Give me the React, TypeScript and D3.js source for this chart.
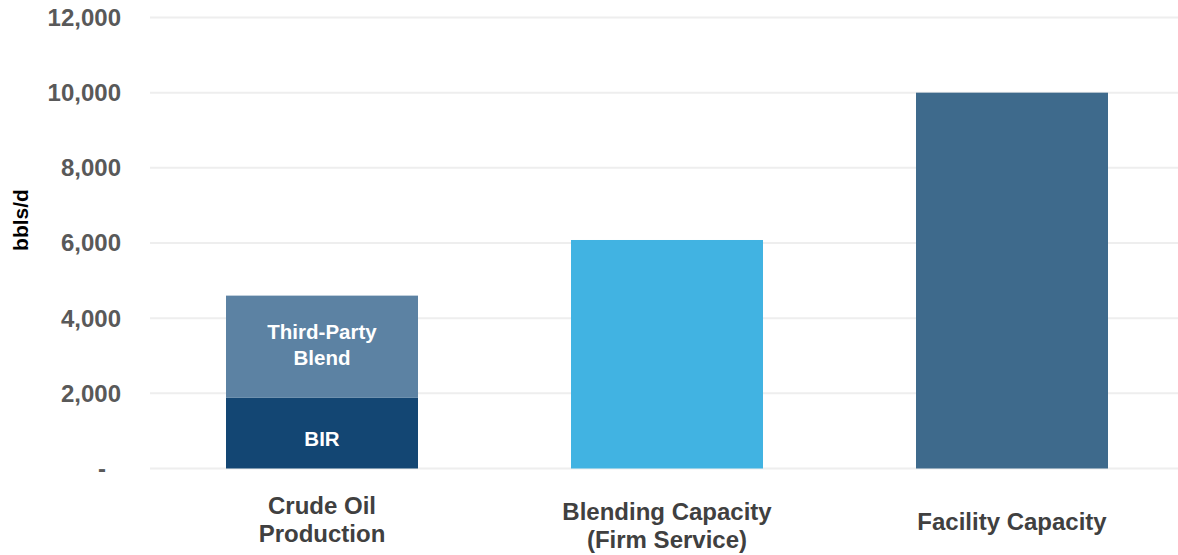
import React from "react";
import * as d3 from "d3";

const categories = ["Crude Oil Production", "Blending Capacity (Firm Service)", "Facility Capacity"];
const categoryLines = [["Crude Oil", "Production"], ["Blending Capacity", "(Firm Service)"], ["Facility Capacity"]];
const birValues = [1880, 0, 0];
const thirdPartyValues = [2720, 0, 0];
const blendingValues = [0, 6080, 0];
const facilityValues = [0, 0, 10000];
const yTicks = [0, 2000, 4000, 6000, 8000, 10000, 12000];
const segmentLabels = { bir: ["BIR"], third: ["Third-Party", "Blend"] };

const W = 1178, H = 555;

export default function App() {
  const x = d3.scaleBand<string>().domain(categories).range([149.5, 1184.5]).paddingInner(0.4435).paddingOuter(0.22175);
  const y = d3.scaleLinear().domain([0, 12000]).range([468.5, 17.5]);
  const bw = x.bandwidth();
  const fmt = d3.format(",");
  const font = "'Liberation Sans', Arial, sans-serif";

  const segs: { cat: string; y0: number; y1: number; color: string; label?: string[] }[] = [];
  categories.forEach((c, i) => {
    let base = 0;
    const add = (v: number, color: string, label?: string[]) => {
      if (v > 0) {
        segs.push({ cat: c, y0: base, y1: base + v, color, label });
        base += v;
      }
    };
    add(birValues[i], "#134673", segmentLabels.bir);
    add(thirdPartyValues[i], "#5c82a3", segmentLabels.third);
    add(blendingValues[i], "#41b3e2");
    add(facilityValues[i], "#3e6a8c");
  });

  return (
    <svg width={W} height={H} style={{ position: "absolute", left: 0, top: 0 }} fontFamily={font}>
      {yTicks.map((t) => (
        <g key={t}>
          <line x1={150} x2={1178} y1={y(t)} y2={y(t)} stroke="#eeeeee" strokeWidth={2} />
          <text
            x={t === 0 ? 106 : 121}
            y={y(t)}
            dy="0.35em"
            textAnchor="end"
            fontSize={24}
            fontWeight="bold"
            fill="#595959"
          >
            {t === 0 ? "-" : fmt(t)}
          </text>
        </g>
      ))}
      <text
        transform={`translate(28,220) rotate(-90)`}
        textAnchor="middle"
        fontSize={21}
        fontWeight="bold"
        fill="#000"
      >
        bbls/d
      </text>
      {segs.map((s, i) => {
        const cx = x(s.cat)! + bw / 2;
        const mid = (y(s.y0) + y(s.y1)) / 2;
        const n = s.label ? s.label.length : 0;
        const startY = n > 1 ? mid - 8 : mid + 12.5;
        return (
          <g key={i}>
            <rect x={x(s.cat)!} width={bw} y={y(s.y1)} height={y(s.y0) - y(s.y1)} fill={s.color} />
            {s.label && (
              <text textAnchor="middle" fontSize={20.5} fontWeight="bold" fill="#ffffff">
                {s.label.map((l, j) => (
                  <tspan key={j} x={cx} y={startY + j * 26}>
                    {l}
                  </tspan>
                ))}
              </text>
            )}
          </g>
        );
      })}
      {categories.map((c, i) => {
        const lines = categoryLines[i];
        const cy = 530 - ((lines.length - 1) * 28) / 2 + (i === 1 ? 6 : 0);
        return (
          <text key={c} textAnchor="middle" fontSize={24} fontWeight="bold" fill="#404040">
            {lines.map((l, j) => (
              <tspan key={j} x={x(c)! + bw / 2} y={cy + j * 28 + (lines.length > 1 ? -2 : 0)}>
                {l}
              </tspan>
            ))}
          </text>
        );
      })}
    </svg>
  );
}
